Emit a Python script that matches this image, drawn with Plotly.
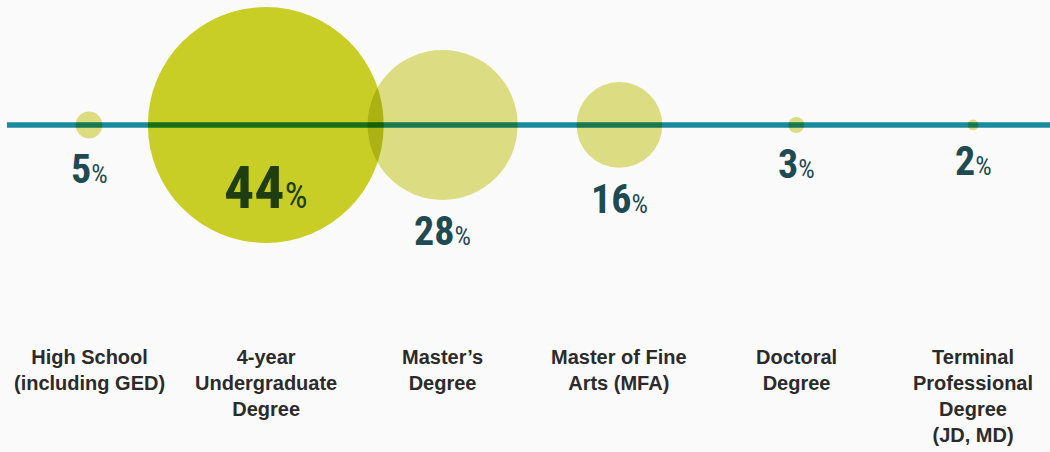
import plotly.graph_objects as go

categories = ["High School<br>(including GED)", "4-year<br>Undergraduate<br>Degree", "Master’s<br>Degree",
              "Master of Fine<br>Arts (MFA)", "Doctoral<br>Degree", "Terminal<br>Professional<br>Degree<br>(JD, MD)"]
shares = [5, 44, 28, 16, 3, 2]
highlight = 44

px_per_pt = 5.36   # bubble diameter (px) per percentage point

bubble_colors = ["#c8ce26" if v == highlight else "#dcdd82" for v in shares]
x_pos = list(range(len(categories)))

x_range = [-0.5034, 5.4355]
line_start = -0.464

fig = go.Figure()

# baseline the bubbles sit on
fig.add_trace(go.Scatter(
    x = [line_start, x_range[1]],
    y = [0, 0],
    mode = "lines",
    line = dict(color = "#1b8a9c", width = 5.5),
    hoverinfo = "skip"
))

fig.add_trace(go.Scatter(
    x = x_pos,
    y = [0] * len(shares),
    mode = "markers",
    marker = dict(
        size = shares,
        sizemode = "diameter",
        sizeref = 1 / px_per_pt,
        color = bubble_colors,
        line = dict(width = 0),
        opacity = 1
    ),
    hoverinfo = "skip"
))

num_font = "Roboto, DejaVu Sans, sans-serif"

def pct_label(v, pct_size):
    return (f"<span style='font-stretch:condensed'>{v}</span>"
            f"<span style='font-size:{pct_size}px;font-weight:normal;font-stretch:condensed'>%</span>")

for i, v in enumerate(shares):
    r = v * px_per_pt / 2
    if v == highlight:
        fig.add_annotation(
            x = i, y = 0, xref = "x", yref = "y",
            text = pct_label(v, 36),
            showarrow = False, yanchor = "middle", yshift = -63,
            font = dict(family = num_font, size = 60, color = "#1e3d10", weight = "bold")
        )
    else:
        fig.add_annotation(
            x = i, y = 0, xref = "x", yref = "y",
            text = pct_label(v, 26),
            showarrow = False, yanchor = "top", yshift = -(r + 6),
            font = dict(family = num_font, size = 40, color = "#1f4a52", weight = "bold")
        )

for i, c in enumerate(categories):
    fig.add_annotation(
        x = i, y = 0.2386, xref = "x", yref = "paper",
        text = c, showarrow = False, yanchor = "top", align = "center",
        font = dict(family = "Liberation Sans, Arial, sans-serif", size = 20, color = "#2b2b2b", weight = "bold")
    )

fig.update_layout(
    width = 1050,
    height = 452,
    margin = dict(l = 0, r = 0, t = 0, b = 0),
    paper_bgcolor = "#fafafa",
    plot_bgcolor = "#fafafa",
    showlegend = False,
    xaxis = dict(range = x_range, visible = False, fixedrange = True),
    yaxis = dict(range = [-0.7235, 0.2765], visible = False, fixedrange = True)
)

page_js = """
document.body.style.margin = '0';
document.body.style.background = '#fafafa';
var gd = document.getElementById('{plot_id}');
gd.querySelectorAll('.scatterlayer .trace:last-child .point').forEach(function(p){ p.style.mixBlendMode = 'multiply'; });
"""

fig.write_html("out.html", post_script = page_js, config = {"displayModeBar": False})
